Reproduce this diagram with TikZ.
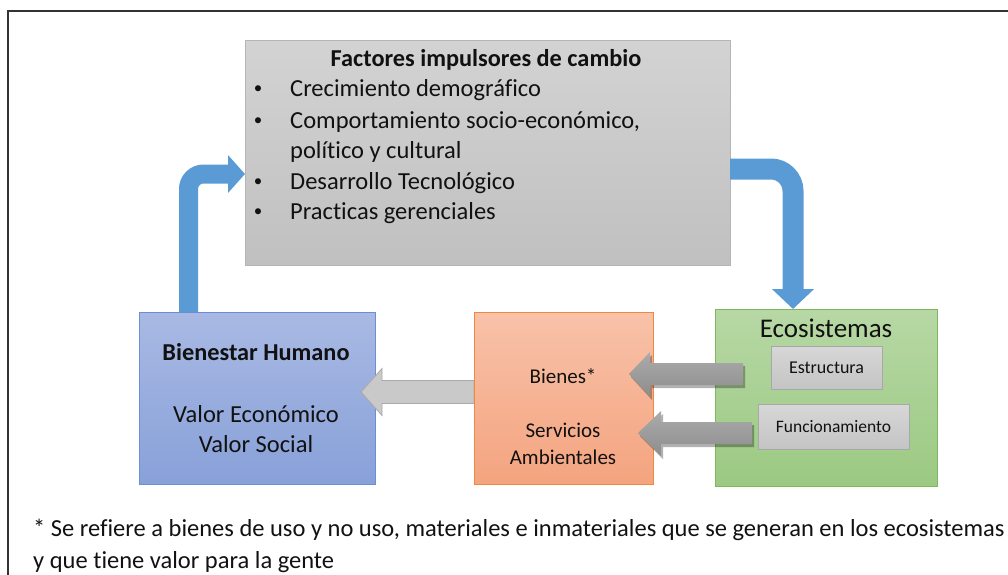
\documentclass[tikz,border=0pt]{standalone}
\usepackage{fontspec}
\setmainfont[Ligatures=CommonOff]{Carlito}
\usetikzlibrary{arrows.meta,calc,shadows}
\definecolor{framec}{HTML}{333333}
\definecolor{arrblue}{HTML}{5B9BD5}
\definecolor{facTop}{HTML}{D3D3D3}
\definecolor{facBot}{HTML}{C0C0C0}
\definecolor{facBrd}{HTML}{B5B5B5}
\definecolor{bhTop}{HTML}{A9B9E3}
\definecolor{bhBot}{HTML}{88A1D9}
\definecolor{bhBrd}{HTML}{6A8FD8}
\definecolor{orTop}{HTML}{F8C2A9}
\definecolor{orBot}{HTML}{F4A47F}
\definecolor{orBrd}{HTML}{F0883E}
\definecolor{grTop}{HTML}{B7D8A5}
\definecolor{grBot}{HTML}{9BC982}
\definecolor{grBrd}{HTML}{7DB95C}
\definecolor{inTop}{HTML}{D7D7D7}
\definecolor{inBot}{HTML}{C4C4C4}
\definecolor{inBrd}{HTML}{A8A8A8}
\definecolor{lgFill}{HTML}{C9C9C9}
\definecolor{lgBrd}{HTML}{A9A9A9}
\definecolor{dgTop}{HTML}{ABABAB}
\definecolor{dgBot}{HTML}{8D8D8D}
\definecolor{txt}{HTML}{111111}
\tikzset{
  boxbase/.style={rectangle, inner sep=0pt, outer sep=0pt, line width=1pt},
  facbox/.style={boxbase, draw=facBrd, top color=facTop, bottom color=facBot},
  bhbox/.style={boxbase, draw=bhBrd, top color=bhTop, bottom color=bhBot},
  orbox/.style={boxbase, draw=orBrd, top color=orTop, bottom color=orBot},
  grbox/.style={boxbase, draw=grBrd, top color=grTop, bottom color=grBot},
  inbox/.style={boxbase, draw=inBrd, top color=inTop, bottom color=inBot},
  lbl/.style={inner sep=0pt, text=txt, font=\fontsize{24.5}{28}\selectfont},
  lblb/.style={lbl, font=\fontsize{24.3}{28}\selectfont\bfseries},
  lbls/.style={lbl, font=\fontsize{21}{25}\selectfont},
  lblxs/.style={lbl, font=\fontsize{17.5}{21}\selectfont},
  bullet/.style={lbl, font=\fontsize{17}{20}\selectfont},
  bluearrow/.style={draw=arrblue, line width=#1},
  lgarrow/.style={fill=lgFill, draw=lgBrd, line width=0.8pt},
  dgarrow/.style={top color=dgTop, bottom color=dgBot, draw=none,
     drop shadow={shadow xshift=2pt, shadow yshift=-3pt, opacity=0.3, fill=black}},
}
\begin{document}
\begin{tikzpicture}[x=1pt,y=-1pt]
\useasboundingbox (0,0) rectangle (1008,574);
% frame
\draw[framec, line width=1.5pt] (8,580) -- (8,11) -- (1012,11);

% boxes
\node[facbox, minimum width=485pt, minimum height=225pt] (fac) at (487.5,152.5) {};
\node[bhbox, minimum width=236pt, minimum height=172pt] (bh) at (257,398) {};
\node[orbox, minimum width=179pt, minimum height=172pt] (orng) at (563.5,398) {};
\node[grbox, minimum width=222pt, minimum height=177pt] (eco) at (826,397.5) {};
\node[inbox, minimum width=111pt, minimum height=43pt] (est) at (826.5,367.5) {};
\node[inbox, minimum width=151pt, minimum height=45pt] (fun) at (833.5,426.5) {};

% factores text
\node[lblb] (tit) at (486,60) {Factores impulsores de cambio};
\node[bullet] (b1) at (258,90) {•};
\node[lbl, anchor=west] (t1) at (290,90) {Crecimiento demográfico};
\node[bullet] (b2) at (258,122) {•};
\node[lbl, anchor=west] (t2) at (290,122) {Comportamiento socio-económico,};
\node[lbl, anchor=west] (t2b) at (290,152) {político y cultural};
\node[bullet] (b3) at (258,183) {•};
\node[lbl, anchor=west] (t3) at (290,183) {Desarrollo Tecnológico};
\node[bullet] (b4) at (258,213) {•};
\node[lbl, anchor=west] (t4) at (290,213) {Practicas gerenciales};

% blue elbow arrows
\coordinate (lx) at (188.5,0);
\coordinate (ly) at (0,174);
\coordinate (rx) at (793,0);
\coordinate (ry) at (0,169);
\draw[bluearrow=19pt, rounded corners=15pt, -{Triangle[width=37pt,length=17pt]}]
  (bh.north -| lx) |- (fac.west |- ly);
\draw[bluearrow=21pt, rounded corners=22pt, -{Triangle[width=41pt,length=20pt]}]
  (fac.east |- ry) -| (eco.north -| rx);

% light grey arrow (orange -> blue)
\path[lgarrow] (474,380.5) -- (382,380.5) -- (382,368.5) -- (361,392) -- (382,415.5) -- (382,403.5) -- (474,403.5) -- cycle;
\draw[orBrd, line width=1pt] (orng.north west) -- (orng.south west);

% dark grey arrows (eco -> orange)
\path[dgarrow] (743,363) -- (650,363) -- (650,352) -- (629,374) -- (650,397) -- (650,385) -- (743,385) -- cycle;
\path[dgarrow] (752,422) -- (661,422) -- (661,411) -- (638,433) -- (661,456) -- (661,444) -- (752,444) -- cycle;

% box texts
\node[lblb] (bhT) at (256,352) {Bienestar Humano};
\node[lbl] (bhV1) at (256,414) {Valor Económico};
\node[lbl] (bhV2) at (256,444) {Valor Social};
\node[lbls] (bien) at (563,376) {Bienes*};
\node[lbls] (serv) at (563,430) {Servicios};
\node[lbls] (amb) at (563,457) {Ambientales};
\node[lbl, font=\fontsize{27}{32}\selectfont] (ecoT) at (826,328) {Ecosistemas};
\node[lblxs, font=\fontsize{18}{22}\selectfont] (estT) at (est) {Estructura};
\node[lblxs] (funT) at (fun) {Funcionamiento};

% footnote
\node[lbl, anchor=west] (fn1) at (33,530) {* Se refiere a bienes de uso y no uso, materiales e inmateriales que se generan en los ecosistemas};
\node[lbl, anchor=west] (fn2) at (33,562) {y que tiene valor para la gente};
\end{tikzpicture}
\end{document}
